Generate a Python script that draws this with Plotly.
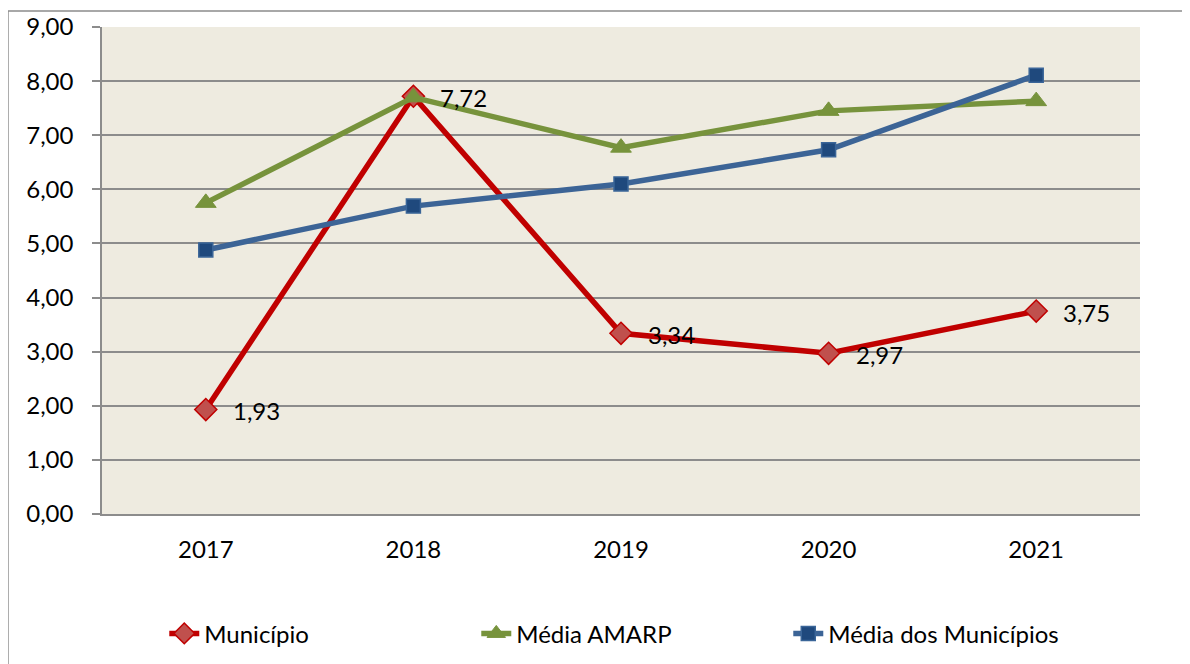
import plotly.graph_objects as go

years = ["2017", "2018", "2019", "2020", "2021"]
municipio = [1.93, 7.72, 3.34, 2.97, 3.75]
media_amarp = [5.75, 7.70, 6.77, 7.45, 7.63]
media_municipios = [4.88, 5.69, 6.10, 6.73, 8.11]
y_ticks = [0, 1, 2, 3, 4, 5, 6, 7, 8, 9]

FONT = "Lato"
FS = 24

fig = go.Figure()
fig.add_trace(go.Scatter(
    x=years, y=municipio, name="Município", mode="lines+markers",
    line=dict(color="#C00000", width=5.5),
    marker=dict(symbol="diamond", size=17, color="#C0504D",
                line=dict(color="#C00000", width=1.5)),
))
fig.add_trace(go.Scatter(
    x=years, y=media_amarp, name="Média AMARP", mode="lines+markers",
    line=dict(color="#77933C", width=5.5),
    marker=dict(symbol="triangle-up", size=18, color="#77933C",
                line=dict(color="#77933C", width=1)),
))
fig.add_trace(go.Scatter(
    x=years, y=media_municipios, name="Média dos Municípios", mode="lines+markers",
    line=dict(color="#3C6496", width=5.5),
    marker=dict(symbol="square", size=14, color="#1F497D",
                line=dict(color="#3A6598", width=1.5)),
))

for i, yv in enumerate(municipio):
    fig.add_annotation(
        x=i, y=yv, text=f"{yv:.2f}".replace(".", ","), showarrow=False,
        xanchor="left", yanchor="middle", xshift=25, yshift=-1,
        font=dict(family=FONT, size=FS, color="#000000"),
    )

# outer chart border (left and top visible)
fig.add_shape(type="rect", xref="paper", yref="paper",
              x0=-0.0906, x1=1.2, y0=-0.5, y1=1.0329,
              line=dict(color="#8C8C8C", width=1.5), fillcolor="rgba(0,0,0,0)",
              layer="below")

fig.update_layout(
    width=1190, height=664,
    margin=dict(l=94, r=58, t=19, b=158, autoexpand=False),
    paper_bgcolor="white",
    plot_bgcolor="#EEEBE0",
    separators=",.",
    font=dict(family=FONT, size=FS, color="#000000"),
    showlegend=True,
    legend=dict(
        orientation="h", x=0.06, xanchor="left", y=-0.246, yanchor="middle",
        entrywidth=267, entrywidthmode="pixels",
        font=dict(family=FONT, size=FS, color="#000000"),
        bgcolor="rgba(0,0,0,0)",
    ),
    xaxis=dict(
        type="category", range=[-0.5, 4.5],
        showgrid=False, showline=True, linecolor="#8C8C8C",
        linewidth=1.5, ticks="", ticklabelstandoff=13, zeroline=False,
        tickfont=dict(family=FONT, size=FS),
    ),
    yaxis=dict(
        range=[0, 9], tickvals=y_ticks, tickformat=".2f",
        showgrid=True, gridcolor="#8C8C8C", gridwidth=1.5,
        showline=True, linecolor="#8C8C8C", linewidth=1.5,
        ticks="outside", ticklen=8, tickcolor="#8C8C8C", tickwidth=1.5,
        ticklabelstandoff=14, zeroline=False,
        tickfont=dict(family=FONT, size=FS),
    ),
)

fig.write_html("out.html")
